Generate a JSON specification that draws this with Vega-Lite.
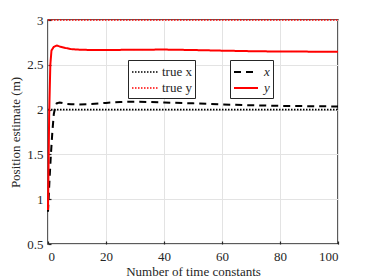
{
  "$schema": "https://vega.github.io/schema/vega-lite/v6.json",
  "width": 290,
  "height": 224,
  "autosize": "none",
  "padding": {"left": 48, "top": 20, "right": 36, "bottom": 36},
  "config": {
    "font": "Liberation Serif",
    "view": {"stroke": "#262626", "strokeWidth": 1.5},
    "axis": {
      "labelFont": "Liberation Serif",
      "titleFont": "Liberation Serif",
      "labelFontSize": 13,
      "titleFontSize": 13,
      "titleFontWeight": "normal",
      "labelColor": "#262626",
      "titleColor": "#262626",
      "domain": false,
      "gridColor": "#e3e3e3",
      "gridWidth": 1,
      "tickColor": "#262626",
      "tickWidth": 1.2,
      "tickSize": -3
    },
    "legend": {
      "labelFont": "Liberation Serif",
      "labelFontSize": 13,
      "labelColor": "#262626"
    }
  },
  "datasets": {
    "truth": [
      {"t": 0, "v": 2, "s": "true x"},
      {"t": 100, "v": 2, "s": "true x"},
      {"t": 0, "v": 3, "s": "true y"},
      {"t": 100, "v": 3, "s": "true y"}
    ],
    "est": [
      {"t": 0, "v": 0.86, "s": "x"},
      {"t": 0.5, "v": 1.2, "s": "x"},
      {"t": 1, "v": 1.5, "s": "x"},
      {"t": 1.5, "v": 1.75, "s": "x"},
      {"t": 2, "v": 1.95, "s": "x"},
      {"t": 2.5, "v": 2.03, "s": "x"},
      {"t": 3, "v": 2.07, "s": "x"},
      {"t": 4, "v": 2.08, "s": "x"},
      {"t": 6, "v": 2.065, "s": "x"},
      {"t": 8, "v": 2.06, "s": "x"},
      {"t": 10, "v": 2.057, "s": "x"},
      {"t": 15, "v": 2.062, "s": "x"},
      {"t": 20, "v": 2.075, "s": "x"},
      {"t": 25, "v": 2.085, "s": "x"},
      {"t": 30, "v": 2.088, "s": "x"},
      {"t": 40, "v": 2.08, "s": "x"},
      {"t": 50, "v": 2.07, "s": "x"},
      {"t": 60, "v": 2.058, "s": "x"},
      {"t": 70, "v": 2.048, "s": "x"},
      {"t": 80, "v": 2.042, "s": "x"},
      {"t": 90, "v": 2.038, "s": "x"},
      {"t": 100, "v": 2.035, "s": "x"},
      {"t": 0, "v": 0.88, "s": "y"},
      {"t": 0.4, "v": 1.94, "s": "y"},
      {"t": 0.8, "v": 2.5, "s": "y"},
      {"t": 1.2, "v": 2.66, "s": "y"},
      {"t": 2, "v": 2.7, "s": "y"},
      {"t": 3, "v": 2.715, "s": "y"},
      {"t": 4, "v": 2.705, "s": "y"},
      {"t": 6, "v": 2.688, "s": "y"},
      {"t": 8, "v": 2.675, "s": "y"},
      {"t": 10, "v": 2.67, "s": "y"},
      {"t": 15, "v": 2.665, "s": "y"},
      {"t": 20, "v": 2.665, "s": "y"},
      {"t": 30, "v": 2.668, "s": "y"},
      {"t": 40, "v": 2.67, "s": "y"},
      {"t": 50, "v": 2.665, "s": "y"},
      {"t": 60, "v": 2.658, "s": "y"},
      {"t": 70, "v": 2.652, "s": "y"},
      {"t": 80, "v": 2.648, "s": "y"},
      {"t": 90, "v": 2.647, "s": "y"},
      {"t": 100, "v": 2.645, "s": "y"}
    ]
  },
  "encoding": {
    "x": {
      "field": "t", "type": "quantitative",
      "scale": {"domain": [0, 100], "nice": false},
      "axis": {"values": [0, 20, 40, 60, 80, 100], "title": "Number of time constants", "labelPadding": 9, "titlePadding": 2}
    },
    "y": {
      "field": "v", "type": "quantitative",
      "scale": {"domain": [0.5, 3], "nice": false, "zero": false},
      "axis": {"values": [0.5, 1, 1.5, 2, 2.5, 3], "format": "~g", "title": "Position estimate (m)", "labelPadding": 8, "titlePadding": 4}
    }
  },
  "layer": [
    {
      "data": {"name": "truth"},
      "mark": {"type": "line", "strokeWidth": 1.6, "clip": false},
      "encoding": {
        "color": {
          "field": "s", "type": "nominal",
          "scale": {"domain": ["true x", "true y"], "range": ["black", "red"]},
          "legend": {
            "title": null, "orient": "none", "legendX": 80, "legendY": 40,
            "direction": "vertical", "columns": 1, "columnPadding": 0,
            "symbolType": "M-1,0H2.25", "symbolSize": 256, "symbolStrokeWidth": 1.6,
            "strokeColor": "#262626", "fillColor": "white", "padding": 3,
            "rowPadding": -1, "labelOffset": 13
          }
        },
        "strokeDash": {
          "field": "s", "type": "nominal",
          "scale": {"domain": ["true x", "true y"], "range": [[1.5, 1.5], [1.5, 1.5]]},
          "legend": {
            "title": null, "orient": "none", "legendX": 80, "legendY": 40,
            "direction": "vertical", "columns": 1, "columnPadding": 0,
            "symbolType": "M-1,0H2.25", "symbolSize": 256, "symbolStrokeWidth": 1.6,
            "strokeColor": "#262626", "fillColor": "white", "padding": 3,
            "rowPadding": -1, "labelOffset": 13
          }
        }
      }
    },
    {
      "data": {"name": "est"},
      "mark": {"type": "line", "strokeWidth": 2},
      "encoding": {
        "color": {
          "field": "s", "type": "nominal",
          "scale": {"domain": ["x", "y"], "range": ["black", "red"]},
          "legend": {
            "title": null, "orient": "none", "legendX": 182, "legendY": 40,
            "direction": "vertical", "columns": 1, "columnPadding": 0,
            "symbolType": "M-1,0H2", "symbolSize": 256, "symbolStrokeWidth": 2,
            "strokeColor": "#262626", "fillColor": "white", "padding": 3,
            "rowPadding": -1, "labelOffset": 13, "labelFontStyle": "italic"
          }
        },
        "strokeDash": {
          "field": "s", "type": "nominal",
          "scale": {"domain": ["x", "y"], "range": [[7, 5], [1, 0]]},
          "legend": {
            "title": null, "orient": "none", "legendX": 182, "legendY": 40,
            "direction": "vertical", "columns": 1, "columnPadding": 0,
            "symbolType": "M-1,0H2", "symbolSize": 256, "symbolStrokeWidth": 2,
            "strokeColor": "#262626", "fillColor": "white", "padding": 3,
            "rowPadding": -1, "labelOffset": 13, "labelFontStyle": "italic"
          }
        }
      }
    }
  ],
  "resolve": {"scale": {"color": "independent", "strokeDash": "independent"}}
}
